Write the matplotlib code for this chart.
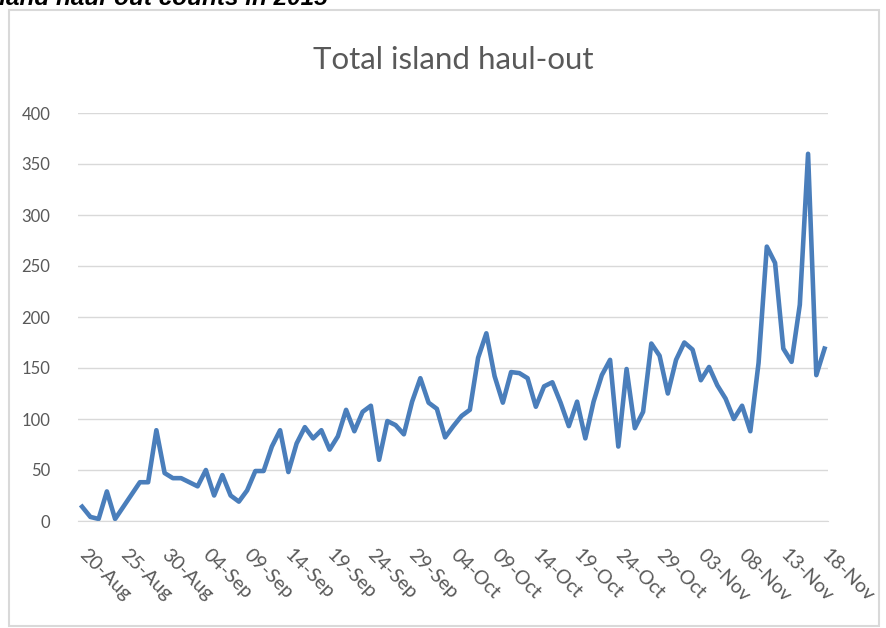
import matplotlib
matplotlib.use("Agg")
import matplotlib.pyplot as plt
import matplotlib.dates as mdates
import matplotlib.transforms as mtransforms
from matplotlib.patches import Rectangle
import pandas as pd

# Daily haul-out counts, 20 Aug - 18 Nov 2015
aug = [14, 4, 2, 29, 2, 14, 26, 38, 38, 89, 47, 42]
sep = [42, 38, 34, 50, 25, 45, 25, 19, 30, 49, 49, 73, 89, 48, 76,
       92, 81, 89, 70, 83, 109, 88, 107, 113, 60, 98, 94, 85, 117, 140]
oct_ = [116, 110, 82, 93, 103, 109, 160, 184, 142, 116, 146, 145, 140, 112, 132,
        136, 116, 93, 117, 81, 117, 143, 158, 73, 149, 91, 107, 174, 162, 125, 158]
nov = [175, 168, 138, 151, 133, 120, 100, 113, 88, 155, 269, 253, 169, 156, 212,
       360, 143, 169]

counts = aug + sep + oct_ + nov
dates = pd.date_range("2015-08-20", "2015-11-18", freq="D")
tick_dates = pd.date_range("2015-08-20", "2015-11-18", freq="5D")

grey = "#595959"
grid = "#d9d9d9"
plt.rcParams["font.family"] = ["Lato", "DejaVu Sans"]

fig = plt.figure(figsize=(8.87, 6.28), dpi=100)

# chart area border
fig.patches.append(Rectangle((9 / 887, 2 / 628), 870 / 887, 616 / 628,
                             transform=fig.transFigure, fill=False,
                             edgecolor=grid, linewidth=1.5))

# caption sitting above the chart
fig.text(328 / 887, 1 - 5 / 628, "Total island haul-out counts in 2015",
         ha="right", va="baseline", fontsize=17.5, fontweight="bold",
         fontstyle="italic", family="Liberation Sans", color="black")

ax = fig.add_axes([78 / 887, 107 / 628, 750 / 887, 408 / 628])
ax.plot(dates, counts, color="#4a7ebb", linewidth=3.3, solid_joinstyle="round")

ax.set_ylim(0, 400)
ax.set_yticks(range(0, 401, 50))
ax.set_xlim(dates[0] - pd.Timedelta(hours=12), dates[-1] + pd.Timedelta(hours=10))
ax.set_xticks(tick_dates)
ax.xaxis.set_major_formatter(mdates.DateFormatter("%d-%b"))

ax.grid(axis="y", color=grid, linewidth=1)
ax.set_axisbelow(True)
for side in ["top", "right", "left"]:
    ax.spines[side].set_visible(False)
ax.spines["bottom"].set_color(grid)

ax.tick_params(axis="y", length=0, pad=20, labelsize=12, labelcolor=grey)
ax.tick_params(axis="x", length=0, pad=18, labelsize=14, labelcolor=grey)
shift = mtransforms.ScaledTranslation(4 / 72, 0, fig.dpi_scale_trans)
for lbl in ax.get_xticklabels():
    lbl.set_rotation(-45)
    lbl.set_ha("left")
    lbl.set_rotation_mode("anchor")
    lbl.set_transform(lbl.get_transform() + shift)

ax.set_title("Total island haul-out", fontsize=22.5, color=grey, pad=32)

fig.savefig("out.png", dpi=100)
